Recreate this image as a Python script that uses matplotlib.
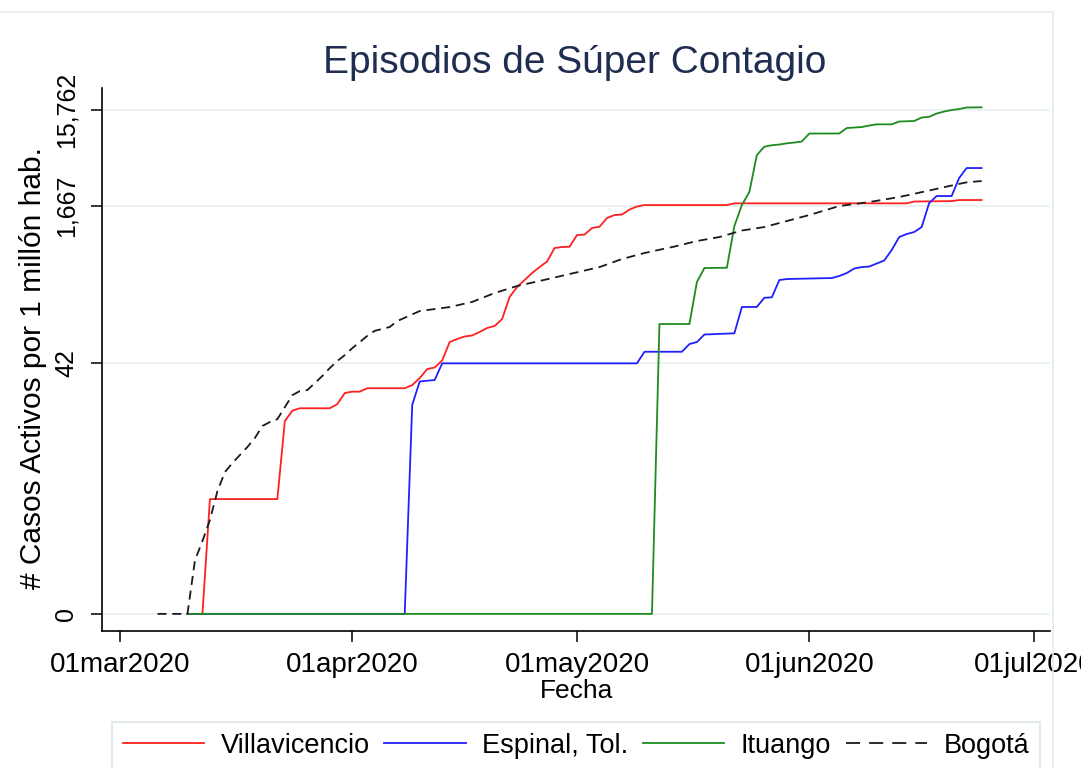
import numpy as np
import pandas as pd
import matplotlib
matplotlib.use("Agg")
import matplotlib.pyplot as plt
from matplotlib.patches import Rectangle
from matplotlib.lines import Line2D

plt.rcParams['font.family'] = ['Liberation Sans', 'DejaVu Sans']

# Casos activos por 1 millón de habitantes
villavicencio_dates = [
    '2020-03-10', '2020-03-12', '2020-03-13', '2020-03-22', '2020-03-23', '2020-03-24',
    '2020-03-25', '2020-03-29', '2020-03-30', '2020-03-31', '2020-04-01', '2020-04-02',
    '2020-04-03', '2020-04-08', '2020-04-09', '2020-04-10', '2020-04-11', '2020-04-12',
    '2020-04-13', '2020-04-14', '2020-04-15', '2020-04-16', '2020-04-17', '2020-04-18',
    '2020-04-19', '2020-04-20', '2020-04-21', '2020-04-22', '2020-04-23', '2020-04-24',
    '2020-04-25', '2020-04-26', '2020-04-27', '2020-04-28', '2020-04-29', '2020-04-30',
    '2020-05-01', '2020-05-02', '2020-05-03', '2020-05-04', '2020-05-05', '2020-05-06',
    '2020-05-07', '2020-05-08', '2020-05-09', '2020-05-10', '2020-05-21', '2020-05-22',
    '2020-06-14', '2020-06-15', '2020-06-20', '2020-06-21', '2020-06-24']
villavicencio_vals = [
    0, 0, 1.64, 1.64, 10.8, 13.8,
    14.6, 14.6, 16.1, 20.9, 21.6, 21.6,
    23.4, 23.4, 25.2, 29.7, 36.7, 38.1,
    44.9, 69.2, 74.3, 78.8, 80.7, 87.6,
    96.2, 100.8, 118.7, 198.6, 251, 295.5,
    348, 400, 456, 625, 640, 644,
    847, 855, 998, 1028, 1261, 1352,
    1368, 1538, 1650, 1708, 1708, 1778,
    1778, 1854, 1873, 1920, 1920]

espinal_dates = [
    '2020-03-10', '2020-04-08', '2020-04-09', '2020-04-10', '2020-04-12', '2020-04-13',
    '2020-05-09', '2020-05-10', '2020-05-15', '2020-05-16', '2020-05-17', '2020-05-18',
    '2020-05-22', '2020-05-23', '2020-05-25', '2020-05-26', '2020-05-27', '2020-05-28',
    '2020-05-29', '2020-06-04', '2020-06-05', '2020-06-06', '2020-06-07', '2020-06-08',
    '2020-06-09', '2020-06-10', '2020-06-11', '2020-06-12', '2020-06-13', '2020-06-14',
    '2020-06-15', '2020-06-16', '2020-06-17', '2020-06-18', '2020-06-20', '2020-06-21',
    '2020-06-22', '2020-06-24']
espinal_vals = [
    0, 0, 15.8, 27.4, 28.4, 42,
    42, 55.1, 55.1, 66.0, 69.2, 82.5,
    84.9, 157, 157.5, 195, 197, 295.5,
    302.5, 309.6, 324.5, 348, 386.8, 400,
    405.3, 434.8, 466.4, 596.3, 808, 867,
    908.5, 1021, 1790, 2109, 2109, 3213,
    4060, 4060]

ituango_dates = [
    '2020-03-10', '2020-05-11', '2020-05-12', '2020-05-16', '2020-05-17', '2020-05-18',
    '2020-05-21', '2020-05-22', '2020-05-23', '2020-05-24', '2020-05-25', '2020-05-26',
    '2020-05-27', '2020-05-28', '2020-05-29', '2020-05-30', '2020-05-31', '2020-06-01',
    '2020-06-05', '2020-06-06', '2020-06-07', '2020-06-08', '2020-06-09', '2020-06-10',
    '2020-06-12', '2020-06-13', '2020-06-14', '2020-06-15', '2020-06-16', '2020-06-17',
    '2020-06-18', '2020-06-19', '2020-06-20', '2020-06-21', '2020-06-22', '2020-06-24']
ituango_vals = [
    0, 0, 105.5, 105.5, 282, 391.3,
    394, 1045, 1708, 2316, 5500, 6683,
    6920, 7034, 7236, 7371, 7548, 9098,
    9110, 10349, 10470, 10593, 10972, 11284,
    11284, 12046, 12130, 12190, 13230, 13450,
    14530, 15226, 15762, 16144, 16722, 16800]

bogota_dates = [
    '2020-03-06', '2020-03-10', '2020-03-11', '2020-03-12', '2020-03-13', '2020-03-14',
    '2020-03-15', '2020-03-16', '2020-03-17', '2020-03-18', '2020-03-19', '2020-03-20',
    '2020-03-21', '2020-03-22', '2020-03-23', '2020-03-24', '2020-03-25', '2020-03-26',
    '2020-03-27', '2020-03-28', '2020-03-29', '2020-03-30', '2020-03-31', '2020-04-01',
    '2020-04-02', '2020-04-03', '2020-04-04', '2020-04-05', '2020-04-06', '2020-04-07',
    '2020-04-10', '2020-04-14', '2020-04-17', '2020-04-20', '2020-04-23', '2020-04-26',
    '2020-04-30', '2020-05-04', '2020-05-07', '2020-05-10', '2020-05-14', '2020-05-17',
    '2020-05-20', '2020-05-23', '2020-05-26', '2020-05-29', '2020-06-01', '2020-06-05',
    '2020-06-09', '2020-06-13', '2020-06-17', '2020-06-20', '2020-06-22', '2020-06-24']
bogota_vals = [
    0, 0, 0.30, 0.54, 0.96, 2.0,
    3.19, 3.97, 4.81, 5.83, 7.22, 9.6,
    10.55, 11.3, 15.0, 19.9, 21.9, 22.4,
    26.4, 31.2, 37.6, 44.3, 51, 60,
    69, 80, 90, 94, 98.5, 113,
    143, 157, 177, 218, 257, 289,
    340, 400, 483, 556, 647, 736,
    808, 941, 1021, 1175, 1352, 1669,
    1832, 2060, 2399, 2697, 2906, 2995]

y_ticks = [0, 42, 1667, 15762]
y_ticklabels = ['0', '42', '1,667', '15,762']
x_ticks = ['2020-03-01', '2020-04-01', '2020-05-01', '2020-06-01', '2020-07-01']
x_ticklabels = ['01mar2020', '01apr2020', '01may2020', '01jun2020', '01jul2020']

# y axis is log-like: log(v + c) so that zero can be shown
C = 0.12
def fwd(v):
    return np.log(np.maximum(np.asarray(v, dtype=float) + C, 1e-6))

def inv(t):
    return np.exp(t) - C

fig = plt.figure(figsize=(10.81, 7.68), dpi=100)
ax = fig.add_axes([0.0944, 0.1788, 0.8770, 0.7066])
ax.set_yscale('function', functions=(fwd, inv))

series = [
    ('Villavicencio', villavicencio_dates, villavicencio_vals, '#ff2020', '-'),
    ('Espinal, Tol.', espinal_dates, espinal_vals, '#2020ff', '-'),
    ('Ituango', ituango_dates, ituango_vals, '#1f8a1f', '-'),
    ('Bogotá', bogota_dates, bogota_vals, '#1a1a1a', (0, (5, 3.2))),
]
handles = []
for name, d, v, col, ls in series:
    ax.plot(pd.to_datetime(d), v, color=col, lw=1.3, linestyle=ls)
    # legend proxies (longer dashes in the key, as in the original)
    leg_ls = (0, (7.8, 5.0)) if ls != '-' else '-'
    handles.append(Line2D([], [], color=col, lw=1.3, linestyle=leg_ls, label=name))

# axes limits
x0 = pd.Timestamp('2020-03-01')
ax.set_xlim(x0 - pd.Timedelta(days=2.40), x0 + pd.Timedelta(days=124.14))
ax.set_ylim(-0.039, 26390)

ax.set_yticks(y_ticks)
ax.set_yticklabels(y_ticklabels, rotation=90, va='center', fontsize=18)
ax.yaxis.set_minor_locator(matplotlib.ticker.NullLocator())
ax.set_xticks(pd.to_datetime(x_ticks))
ax.set_xticklabels(x_ticklabels, fontsize=20)
ax.xaxis.set_minor_locator(matplotlib.ticker.NullLocator())

ax.grid(axis='y', color='#e9f1f2', lw=1.3)
ax.set_axisbelow(True)
for s in ['top', 'right']:
    ax.spines[s].set_visible(False)
for s in ['left', 'bottom']:
    ax.spines[s].set_linewidth(1.2)
ax.tick_params(axis='both', length=8, width=1.1, direction='out')
ax.tick_params(axis='x', pad=7)
ax.tick_params(axis='y', pad=9)

ax.set_ylabel('# Casos Activos por 1 millón hab.', fontsize=21.5)
ax.yaxis.set_label_coords(-0.058, 0.484)
ax.set_xlabel('Fecha', fontsize=19)
ax.xaxis.set_label_coords(0.5, -0.089)

fig.text(575 / 1081, 1 - 63 / 768, 'Episodios de Súper Contagio',
         ha='center', va='center', fontsize=28, color='#1e2d50')

leg = fig.legend(handles=handles, loc='upper center',
                 bbox_to_anchor=(576 / 1081, 1 - 722 / 768), borderaxespad=0,
                 ncol=4, frameon=True, fancybox=False, edgecolor='#dde6e8',
                 framealpha=1, handlelength=3.0, handletextpad=0.6,
                 columnspacing=0.55, borderpad=0.4, fontsize=19.5)
leg.get_frame().set_linewidth(1.2)

# outer light border of the graph region
fig.patches.append(Rectangle((-0.02, -0.1), 1053 / 1081 + 0.02, 1 - 12 / 768 + 0.1,
                             transform=fig.transFigure, fill=False,
                             edgecolor='#e3ebed', lw=1.2))

fig.savefig('out.png', dpi=100)
